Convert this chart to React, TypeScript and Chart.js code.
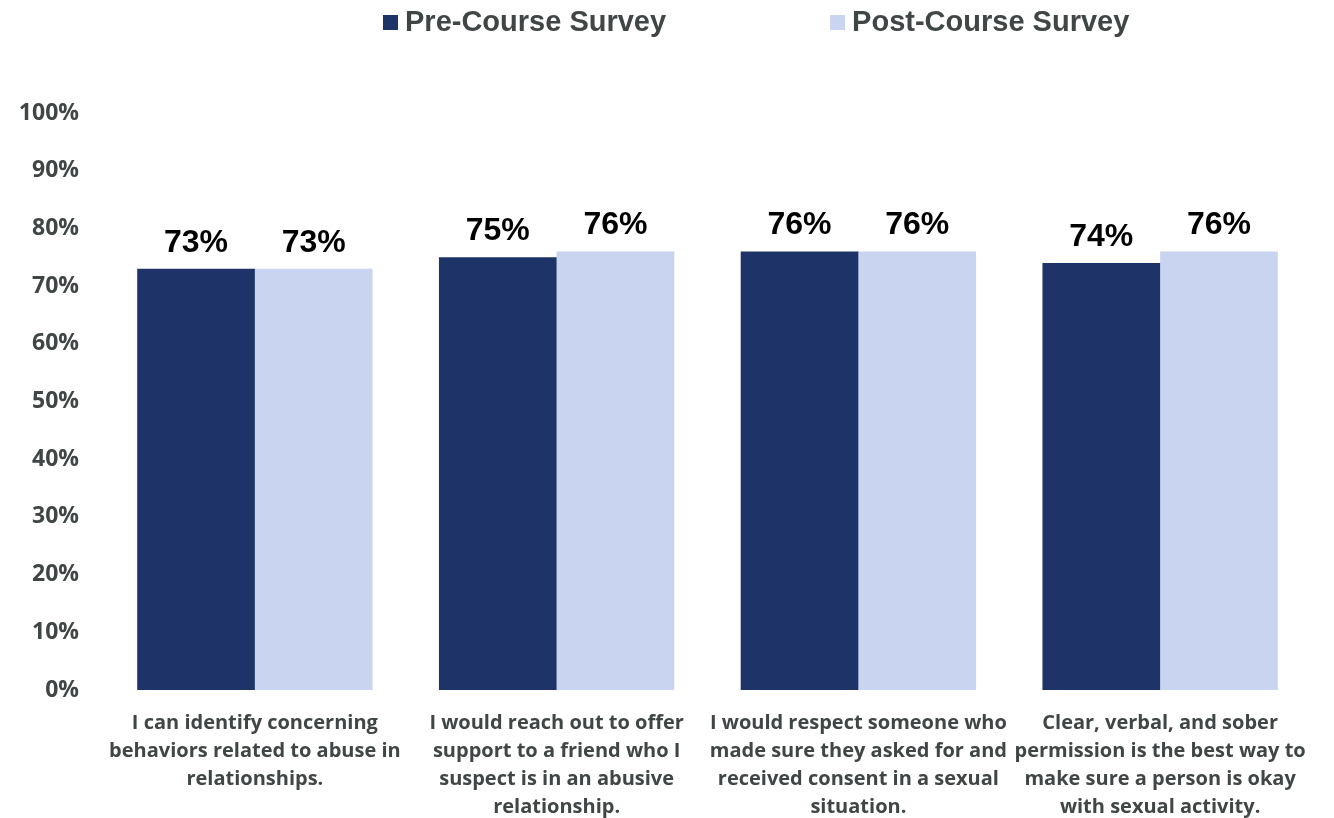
import React, { useEffect, useRef } from "react";
import { Chart, registerables } from "chart.js";

Chart.register(...registerables);

const categories: string[][] = [
  ["I can identify concerning", "behaviors related to abuse in", "relationships."],
  ["I would reach out to offer", "support to a friend who I", "suspect is in an abusive", "relationship."],
  ["I would respect someone who", "made sure they asked for and", "received consent in a sexual", "situation."],
  ["Clear, verbal, and sober", "permission is the best way to", "make sure a person is okay", "with sexual activity."],
];
const seriesNames = ["Pre-Course Survey", "Post-Course Survey"];
const preValues = [73, 75, 76, 74];
const postValues = [73, 76, 76, 76];
const yMin = 0;
const yMax = 100;
const yStep = 10;

const DARK = "#1E3468";
const LIGHT = "#C8D4F0";
const AXIS_TEXT = "#404545";
const LABEL_FONT = '"Open Sans", "Noto Sans", sans-serif';
const ARIAL = '"Liberation Sans", Arial, sans-serif';

const legendPlugin = {
  id: "customLegend",
  afterDraw(chart: any) {
    const ctx = chart.ctx as CanvasRenderingContext2D;
    ctx.save();
    ctx.font = `bold 29px ${ARIAL}`;
    ctx.textBaseline = "middle";
    ctx.textAlign = "left";
    let x = 383;
    chart.data.datasets.forEach((ds: any) => {
      ctx.fillStyle = ds.backgroundColor;
      ctx.fillRect(x, 15, 15, 15);
      ctx.fillStyle = AXIS_TEXT;
      ctx.fillText(ds.label, x + 22, 23);
      x += 22 + ctx.measureText(ds.label).width + 164;
    });
    ctx.restore();
  },
};

const dataLabelPlugin = {
  id: "dataLabels",
  afterDatasetsDraw(chart: any) {
    const ctx = chart.ctx as CanvasRenderingContext2D;
    ctx.save();
    ctx.font = `bold 32px ${ARIAL}`;
    ctx.fillStyle = "#000000";
    ctx.textAlign = "center";
    ctx.textBaseline = "alphabetic";
    chart.data.datasets.forEach((ds: any, i: number) => {
      const meta = chart.getDatasetMeta(i);
      meta.data.forEach((el: any, j: number) => {
        ctx.fillText(`${ds.data[j]}%`, el.x, el.y - 17);
      });
    });
    ctx.restore();
  },
};

export default function App() {
  const ref = useRef<HTMLCanvasElement | null>(null);

  useEffect(() => {
    if (!ref.current) return;
    const chart = new Chart(ref.current, {
      type: "bar",
      data: {
        labels: categories,
        datasets: [
          {
            label: seriesNames[0],
            data: preValues,
            backgroundColor: DARK,
            borderWidth: 0,
            categoryPercentage: 0.78,
            barPercentage: 1.0,
          },
          {
            label: seriesNames[1],
            data: postValues,
            backgroundColor: LIGHT,
            borderWidth: 0,
            categoryPercentage: 0.78,
            barPercentage: 1.0,
          },
        ],
      },
      options: {
        animation: false,
        responsive: false,
        maintainAspectRatio: false,
        layout: { padding: { top: 113, right: 23, left: 0, bottom: 0 } },
        plugins: {
          legend: { display: false },
          tooltip: { enabled: false },
        },
        scales: {
          x: {
            grid: { display: false, drawTicks: false },
            border: { display: false },
            ticks: {
              autoSkip: false,
              maxRotation: 0,
              minRotation: 0,
              padding: 19,
              color: AXIS_TEXT,
              font: { family: LABEL_FONT, size: 20, weight: "bold", lineHeight: 1.4 },
            },
            afterFit(scale: any) {
              scale.height = 128;
            },
          },
          y: {
            min: yMin,
            max: yMax,
            grid: { display: false, drawTicks: false },
            border: { display: false },
            ticks: {
              stepSize: yStep,
              padding: 25,
              color: AXIS_TEXT,
              font: { family: LABEL_FONT, size: 23, weight: "bold" },
              callback: (v: any) => `${v}%`,
            },
            afterFit(scale: any) {
              scale.width = 104;
            },
          },
        },
      },
      plugins: [legendPlugin, dataLabelPlugin],
    });
    return () => chart.destroy();
  }, []);

  return (
    <div style={{ position: "fixed", left: 0, top: 0, width: 1334, height: 818, background: "#ffffff" }}>
      <canvas ref={ref} width={1334} height={818} style={{ display: "block" }} />
    </div>
  );
}
